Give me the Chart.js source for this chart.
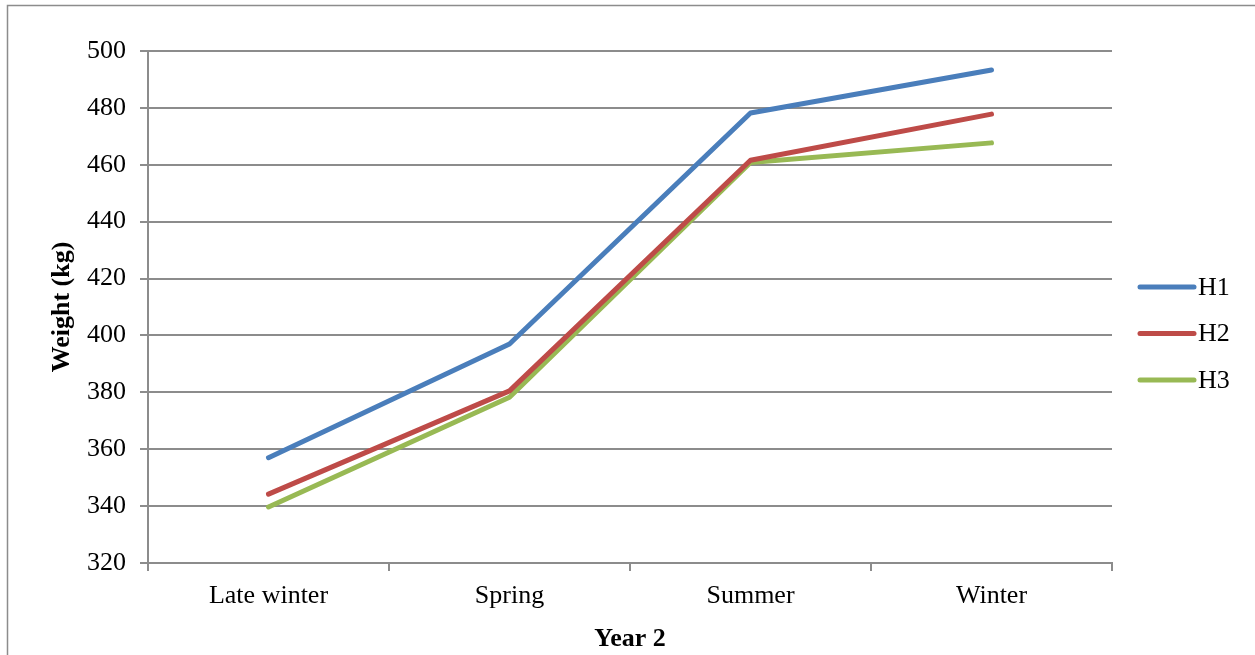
<!DOCTYPE html>
<html>
<head>
<meta charset="utf-8">
<script src="https://cdn.jsdelivr.net/npm/chart.js@4/dist/chart.umd.min.js"></script>
<style>
  html, body { margin: 0; padding: 0; background: #ffffff; }
  #wrap { width: 1255px; height: 655px; position: relative; }
</style>
</head>
<body>
<div id="wrap"><canvas id="chart" width="1255" height="655"></canvas></div>
<script>
// Seasons of the second year
const categories = ['Late winter', 'Spring', 'Summer', 'Winter'];

// Mean body weight (kg) per group
const h1Values = [357, 397, 478.2, 493.3];
const h2Values = [344.2, 380.5, 461.6, 477.8];
const h3Values = [339.7, 378.3, 460.8, 467.7];

const seriesLabels = ['H1', 'H2', 'H3'];
const seriesColors = ['#4A7EBB', '#BE4B48', '#98B954'];

const yMin = 320, yMax = 500, yStep = 20;

const FONT = "'Liberation Serif', 'Times New Roman', serif";
const GRID = '#8c8c8c';

// Outer frame of the figure
const framePlugin = {
  id: 'frame',
  afterDraw(chart) {
    const ctx = chart.ctx;
    ctx.save();
    ctx.strokeStyle = '#8c8c8c';
    ctx.lineWidth = 1.5;
    ctx.beginPath();
    ctx.moveTo(7.5, chart.height);
    ctx.lineTo(7.5, 5.5);
    ctx.lineTo(chart.width, 5.5);
    ctx.stroke();
    ctx.restore();
  }
};

// Legend on the right: short line sample followed by the series name
const sideLegend = {
  id: 'sideLegend',
  afterDraw(chart) {
    const ctx = chart.ctx;
    const x0 = 1140, x1 = 1194, tx = 1198;
    const yStart = 287, gap = 46.5;
    ctx.save();
    chart.data.datasets.forEach((ds, i) => {
      const y = yStart + i * gap;
      ctx.strokeStyle = ds.borderColor;
      ctx.lineWidth = 5;
      ctx.lineCap = 'round';
      ctx.beginPath();
      ctx.moveTo(x0, y);
      ctx.lineTo(x1, y);
      ctx.stroke();
      ctx.fillStyle = '#000000';
      ctx.font = '26px ' + FONT;
      ctx.textBaseline = 'middle';
      ctx.textAlign = 'left';
      ctx.fillText(ds.label, tx, y + 1);
    });
    ctx.restore();
  }
};

const values = [h1Values, h2Values, h3Values];

new Chart(document.getElementById('chart'), {
  type: 'line',
  data: {
    labels: categories,
    datasets: values.map((v, i) => ({
      label: seriesLabels[i],
      data: v,
      borderColor: seriesColors[i],
      backgroundColor: seriesColors[i],
      borderWidth: 5,
      borderCapStyle: 'round',
      borderJoinStyle: 'round',
      pointRadius: 0,
      pointHoverRadius: 0,
      tension: 0,
      fill: false
    }))
  },
  options: {
    responsive: false,
    animation: false,
    events: [],
    layout: { padding: { left: 0, right: 143, top: 51, bottom: 0 } },
    plugins: {
      legend: { display: false },
      tooltip: { enabled: false }
    },
    scales: {
      x: {
        type: 'category',
        offset: true,
        afterFit(scale) { scale.height = 92; },
        grid: {
          offset: true,
          drawOnChartArea: false,
          drawTicks: true,
          tickLength: 8,
          color: GRID,
          lineWidth: 2
        },
        border: { display: true, color: GRID, width: 2 },
        ticks: {
          color: '#000000',
          font: { family: FONT, size: 26 },
          padding: 10,
          maxRotation: 0
        },
        title: {
          display: true,
          text: 'Year 2',
          color: '#000000',
          font: { family: FONT, size: 26, weight: 'bold' },
          padding: { top: 0, bottom: 0 }
        }
      },
      y: {
        min: yMin,
        max: yMax,
        afterFit(scale) { scale.width = 148; },
        grid: {
          drawTicks: true,
          tickLength: 8,
          color: GRID,
          lineWidth: 2
        },
        border: { display: true, color: GRID, width: 2 },
        ticks: {
          stepSize: yStep,
          color: '#000000',
          font: { family: FONT, size: 26 },
          padding: 14
        },
        title: {
          display: true,
          text: 'Weight (kg)',
          color: '#000000',
          font: { family: FONT, size: 26, weight: 'bold' },
          padding: { top: 47, bottom: 0 }
        }
      }
    }
  },
  plugins: [framePlugin, sideLegend]
});
</script>
</body>
</html>
